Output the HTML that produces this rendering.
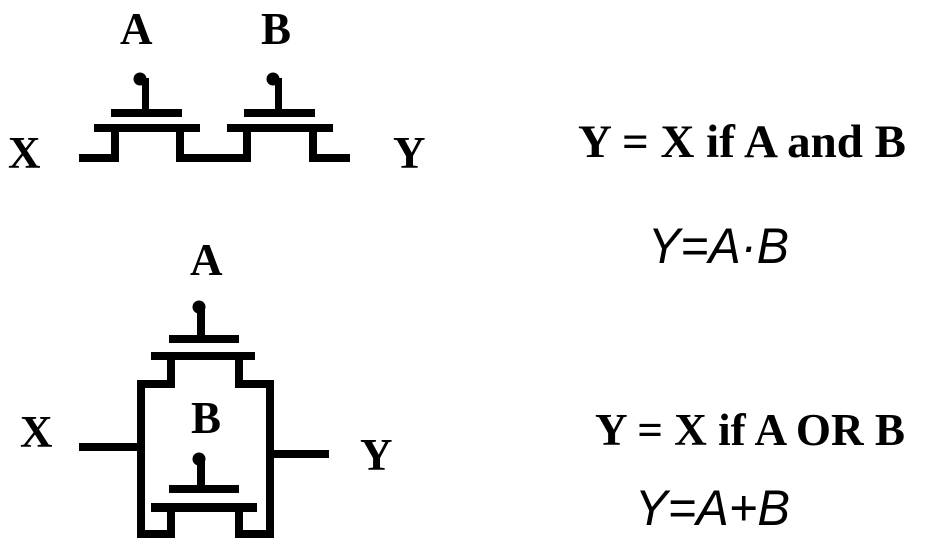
<!DOCTYPE html>
<html><head><meta charset="utf-8"><style>
html,body{margin:0;padding:0;background:#fff;width:934px;height:554px;overflow:hidden}
.t{font-family:"Liberation Serif",serif;font-weight:bold;fill:#000}
.m{font-family:"Liberation Sans",sans-serif;font-style:italic;fill:#000}
</style></head><body>
<svg width="934" height="554" viewBox="0 0 934 554">
<g fill="#000">
  <circle cx="140" cy="79" r="6.5"/>
  <rect x="142" y="78" width="7" height="35"/>
  <rect x="111" y="109" width="71" height="8"/>
  <rect x="94" y="124" width="106" height="8"/>
  <rect x="111" y="124" width="8" height="38"/>
  <rect x="79" y="154" width="40" height="8"/>
  <rect x="176" y="124" width="8" height="38"/>
  <rect x="176" y="154" width="74" height="8"/>
  <circle cx="273" cy="79" r="6.5"/>
  <rect x="275" y="78" width="7" height="35"/>
  <rect x="244" y="109" width="71" height="8"/>
  <rect x="227" y="124" width="106" height="8"/>
  <rect x="243" y="124" width="8" height="38"/>
  <rect x="309" y="124" width="8" height="38"/>
  <rect x="309" y="154" width="41" height="8"/>
</g>
<text class="t" x="120" y="44" font-size="45">A</text>
<text class="t" x="261" y="44" font-size="45">B</text>
<text class="t" x="8" y="168" font-size="45">X</text>
<text class="t" x="393" y="168" font-size="45">Y</text>
<text class="t" x="578" y="157" font-size="47" textLength="328" lengthAdjust="spacingAndGlyphs">Y = X  if A and B</text>
<text class="m" x="648" y="263" font-size="50" textLength="141" lengthAdjust="spacingAndGlyphs">Y=A·B</text>

<g fill="#000">
  <circle cx="199" cy="307" r="6.5"/>
  <rect x="197" y="305" width="8" height="35"/>
  <rect x="169" y="335" width="70" height="8"/>
  <rect x="151" y="352" width="104" height="8"/>
  <rect x="167" y="352" width="8" height="36"/>
  <rect x="235" y="352" width="8" height="36"/>
  <rect x="137" y="380" width="38" height="8"/>
  <rect x="235" y="380" width="39" height="8"/>
  <rect x="137" y="380" width="8" height="158"/>
  <rect x="266" y="380" width="8" height="158"/>
  <rect x="79" y="443" width="60" height="8"/>
  <rect x="272" y="450" width="57" height="8"/>
  <circle cx="199" cy="459" r="6.5"/>
  <rect x="197" y="457" width="8" height="32"/>
  <rect x="169" y="485" width="70" height="8"/>
  <rect x="151" y="503" width="106" height="9"/>
  <rect x="167" y="503" width="8" height="35"/>
  <rect x="235" y="503" width="8" height="35"/>
  <rect x="137" y="530" width="38" height="8"/>
  <rect x="235" y="530" width="39" height="8"/>
</g>
<text class="t" x="190" y="275" font-size="45">A</text>
<text class="t" x="191" y="433" font-size="45">B</text>
<text class="t" x="20" y="447" font-size="45">X</text>
<text class="t" x="360" y="470" font-size="45">Y</text>
<text class="t" x="595" y="445" font-size="45" textLength="310" lengthAdjust="spacingAndGlyphs">Y = X if A OR B</text>
<text class="m" x="635" y="525" font-size="50" textLength="155" lengthAdjust="spacingAndGlyphs">Y=A+B</text>
</svg>
</body></html>
